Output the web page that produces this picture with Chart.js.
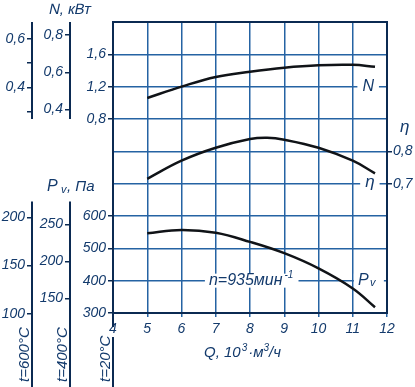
<!DOCTYPE html>
<html>
<head>
<meta charset="utf-8">
<script src="https://cdn.jsdelivr.net/npm/chart.js@4.4.1/dist/chart.umd.min.js"></script>
<style>
  html, body { margin: 0; padding: 0; background: #fff; }
  #wrap { width: 415px; height: 387px; }
</style>
</head>
<body>
<div id="wrap"><canvas id="fanChart" width="415" height="387"></canvas></div>
<script>
// values
const flowQ = [5, 6, 7, 8, 9, 10, 11, 11.65];
const powerN = [1.06, 1.20, 1.32, 1.385, 1.435, 1.465, 1.47, 1.445];
const effQ = [5, 6, 7, 8, 8.5, 9, 10, 11, 11.65];
const effEta = [0.715, 0.771, 0.811, 0.838, 0.842, 0.836, 0.811, 0.771, 0.732];
const pressPv = [547, 557, 548, 520, 485, 438, 376, 318];

// tick labels
const nTicks20 = [0.8, 1.2, 1.6];
const nTicks400 = [0.4, 0.6, 0.8];
const nTicks600 = [0.3, 0.4, 0.5, 0.6];
const nLabels600 = [0.4, 0.6];
const pvTicks20 = [300, 400, 500, 600];
const pvTicks400 = [150, 200, 250];
const pvTicks600 = [100, 150, 200];
const etaTicks = [0.7, 0.8];

// density factors 293/(273+t)
const k400 = 293 / 673;
const k600 = 293 / 873;

const ink = '#133a6c';
const gridBlue = '#2563a3';
const axisNavy = '#0b2a52';
const curveInk = '#101317';
const fam = "'Liberation Sans', Arial";

const tickFont = { family: 'Liberation Sans', size: 14, style: 'italic' };
const comma = (v) => v.toFixed(1).replace('.', ',');
const near = (list, v) => list.some(t => Math.abs(t - v) < 1e-6);

function fixedTicks(list) {
  return (axis) => { axis.ticks = list.map(v => ({ value: v })); };
}
function width(w) {
  return (axis) => {
    axis.width = w;
    if (w === 0) axis._computeLabelArea = () => undefined; // zero-width column, don't clip labels
  };
}

function sideAxis(opts) {
  return Object.assign({
    position: 'left',
    border: { display: false },
    grid: { drawOnChartArea: false, tickLength: 5, tickColor: axisNavy, lineWidth: 1.5 },
    ticks: { font: tickFont, color: ink, padding: 2, autoSkip: false }
  }, opts);
}

// slanted upright text (keeps cyrillic т as т)
function slanted(ctx, text, x, y, size) {
  ctx.save();
  ctx.font = `${size}px ${fam}`;
  ctx.translate(x, y);
  ctx.transform(1, 0, -0.21, 1, 0, 0);
  ctx.fillText(text, 0, 0);
  ctx.restore();
}

const decorPlugin = {
  id: 'decor',
  beforeDatasetsDraw(chart) {
    const { ctx, chartArea: a, scales: s } = chart;
    ctx.save();
    ctx.textBaseline = 'middle';

    const boxed = (text, cx, cy, size) => {
      ctx.font = `italic ${size}px ${fam}`;
      const w = ctx.measureText(text).width;
      ctx.fillStyle = '#fff';
      ctx.fillRect(cx - w / 2 - 5, cy - 7, w + 10, 14);
      ctx.fillStyle = ink;
      ctx.textAlign = 'center';
      ctx.fillText(text, cx, cy);
    };
    boxed('N', s.x.getPixelForValue(11.45), s.yN.getPixelForValue(1.2), 16);
    boxed('η', s.x.getPixelForValue(11.5), s.yE.getPixelForValue(0.7) - 1, 17);

    // Pv label
    const py = s.yP.getPixelForValue(400);
    const px = s.x.getPixelForValue(11.15);
    ctx.fillStyle = '#fff';
    ctx.fillRect(px - 4, py - 7, 30, 14);
    ctx.fillStyle = ink;
    ctx.textAlign = 'left';
    ctx.font = `italic 16px ${fam}`;
    ctx.fillText('P', px, py);
    ctx.font = `italic 11px ${fam}`;
    ctx.fillText('v', px + 12, py + 2);

    // speed label
    const nx = s.x.getPixelForValue(6.8);
    ctx.font = `italic 16px ${fam}`;
    const mainTxt = 'n=935мин';
    const mw = ctx.measureText(mainTxt).width;
    ctx.fillStyle = '#fff';
    ctx.fillRect(nx - 4, py - 7, mw + 20, 14);
    ctx.fillStyle = ink;
    ctx.fillText(mainTxt, nx, py);
    ctx.font = `italic 10px ${fam}`;
    ctx.fillText('-1', nx + mw + 2, py - 5);

    // frame and axis lines
    ctx.strokeStyle = axisNavy;
    ctx.lineWidth = 2;
    ctx.strokeRect(a.left, a.top, a.right - a.left, a.bottom - a.top);
    const vline = (x, y1, y2) => {
      ctx.beginPath(); ctx.moveTo(x, y1); ctx.lineTo(x, y2); ctx.stroke();
    };
    const nBottom = s.yN.getPixelForValue(0.8);
    vline(s.yN600.right, a.top, nBottom);
    vline(s.yN400.right, a.top, nBottom);
    const pTop = s.yP.getPixelForValue(645);
    vline(s.yP600.right, pTop, chart.height);
    vline(s.yP400.right, pTop, chart.height);
    vline(a.left, a.bottom, a.bottom + 14);
    vline(a.left, a.bottom + 24, chart.height);
    ctx.restore();
  },
  afterDraw(chart) {
    const { ctx, chartArea: a, scales: s } = chart;
    ctx.save();
    ctx.fillStyle = ink;
    ctx.textBaseline = 'middle';
    ctx.textAlign = 'left';

    slanted(ctx, 'N, кВт', 49, 10, 15);

    ctx.font = `italic 16px ${fam}`;
    ctx.fillText('P', 47, 187);
    ctx.font = `italic 11px ${fam}`;
    ctx.fillText('v', 61, 190);
    ctx.font = `italic 15px ${fam}`;
    ctx.fillText(', Па', 67, 187);

    ctx.font = `italic 17px ${fam}`;
    ctx.fillText('η', a.right + 13, 127);

    // x axis title
    let x = 204;
    const y = a.bottom + 40;
    const part = (t, size, dy, gap) => {
      ctx.font = `italic ${size}px ${fam}`;
      ctx.fillText(t, x, y + dy);
      x += ctx.measureText(t).width + gap;
    };
    part('Q, 10', 15, 0, 1);
    part('3', 10, -5, 1);
    part('·м', 15, 0, 0);
    part('3', 10, -5, 0);
    part('/ч', 15, 0, 0);

    // temperature captions, rotated
    ctx.font = `italic 15px ${fam}`;
    ctx.textBaseline = 'alphabetic';
    const caption = (t, xr) => {
      ctx.save();
      ctx.translate(xr - 3, chart.height - 5);
      ctx.rotate(-Math.PI / 2);
      ctx.fillText(t, 0, 0);
      ctx.restore();
    };
    caption('t=600°C', s.yP600.right);
    caption('t=400°C', s.yP400.right);
    caption('t=20°C', a.left);
    ctx.restore();
  }
};

const lineStyle = {
  borderColor: curveInk,
  borderWidth: 2.5,
  pointRadius: 0,
  tension: 0.4,
  fill: false
};

new Chart(document.getElementById('fanChart'), {
  type: 'line',
  data: {
    datasets: [
      Object.assign({ label: 'N', yAxisID: 'yN', data: flowQ.map((q, i) => ({ x: q, y: powerN[i] })) }, lineStyle),
      Object.assign({ label: 'η', yAxisID: 'yE', data: effQ.map((q, i) => ({ x: q, y: effEta[i] })) }, lineStyle),
      Object.assign({ label: 'Pv', yAxisID: 'yP', data: flowQ.map((q, i) => ({ x: q, y: pressPv[i] })) }, lineStyle)
    ]
  },
  options: {
    responsive: false,
    devicePixelRatio: 1,
    animation: false,
    layout: { padding: { top: 22, left: 0, right: 0, bottom: 0 } },
    plugins: { legend: { display: false }, tooltip: { enabled: false } },
    scales: {
      x: {
        type: 'linear',
        position: 'bottom',
        min: 4,
        max: 12,
        border: { display: false },
        grid: { color: gridBlue, lineWidth: 1.5, tickLength: 4, tickColor: gridBlue },
        ticks: { stepSize: 1, font: tickFont, color: ink, padding: 4, maxRotation: 0, autoSkip: false },
        afterFit: (axis) => { axis.height = 74; }
      },
      yN: {
        type: 'linear',
        position: 'left',
        weight: 1,
        min: -1.6,
        max: 2.0,
        border: { display: false },
        grid: {
          color: gridBlue,
          lineWidth: 1.5,
          tickLength: 5,
          tickColor: (c) => near(nTicks20, c.tick.value) ? axisNavy : 'rgba(0,0,0,0)'
        },
        ticks: {
          stepSize: 0.4,
          font: tickFont,
          color: ink,
          padding: 2,
          autoSkip: false,
          callback: (v) => near(nTicks20, v) ? comma(v) : ''
        },
        afterFit: width(0)
      },
      yP: sideAxis({
        weight: 2, min: 300, max: 1200,
        afterBuildTicks: fixedTicks(pvTicks20), afterFit: width(43)
      }),
      yN400: sideAxis({
        weight: 3, min: -1.6 * k400, max: 2.0 * k400,
        ticks: { font: tickFont, color: ink, padding: 2, autoSkip: false, callback: (v) => comma(v) },
        afterBuildTicks: fixedTicks(nTicks400), afterFit: width(0)
      }),
      yP400: sideAxis({
        weight: 4, min: 300 * k400, max: 1200 * k400,
        afterBuildTicks: fixedTicks(pvTicks400), afterFit: width(38)
      }),
      yN600: sideAxis({
        weight: 5, min: -1.6 * k600, max: 2.0 * k600,
        ticks: { font: tickFont, color: ink, padding: 2, autoSkip: false, callback: (v) => near(nLabels600, v) ? comma(v) : '' },
        afterBuildTicks: fixedTicks(nTicks600), afterFit: width(0)
      }),
      yP600: sideAxis({
        weight: 6, min: 300 * k600, max: 1200 * k600,
        afterBuildTicks: fixedTicks(pvTicks600), afterFit: width(32)
      }),
      yE: sideAxis({
        position: 'right',
        min: 0.3, max: 1.2,
        grid: { drawOnChartArea: false, tickLength: 5, tickColor: axisNavy, lineWidth: 1.5 },
        ticks: { font: tickFont, color: ink, padding: 1, autoSkip: false, callback: (v) => comma(v) },
        afterBuildTicks: fixedTicks(etaTicks), afterFit: width(28)
      })
    }
  },
  plugins: [decorPlugin]
});
</script>
</body>
</html>
